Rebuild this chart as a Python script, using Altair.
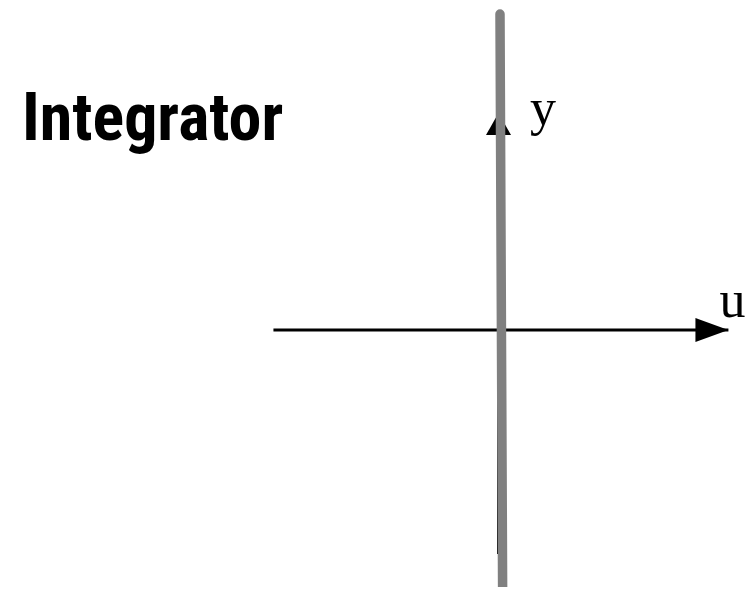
import altair as alt
import pandas as pd

title_text = ["Integrator"]

# Axis arrows in (u, y) data units, origin at the crossing point
axis_name = ["u", "y"]
axis_u0 = [-1.023, 0.0]
axis_v0 = [0.0, -1.018]
axis_u1 = [1.045, 0.0]
axis_v1 = [0.0, 0.986]
head_shape = ["M-2,-0.727L0,0L-2,0.727Z", "M-1.136,2L0,0L1.136,2Z"]
head_size = [1089, 484]

# Integrator equilibrium set (nearly vertical line u = 0)
line_u = [0.0068, 0.019]
line_v = [1.436, -1.25]

# Axis labels
label_text = ["u", "y"]
label_u = [1.005, 0.143]
label_v = [0.059, 0.932]

axes = pd.DataFrame({"name": axis_name, "u0": axis_u0, "v0": axis_v0,
                     "u1": axis_u1, "v1": axis_v1,
                     "shape": head_shape, "size": head_size})
eq = pd.DataFrame({"u0": [line_u[0]], "v0": [line_v[0]],
                   "u1": [line_u[1]], "v1": [line_v[1]]})
labels = pd.DataFrame({"text": label_text, "u": label_u, "v": label_v})
titles = pd.DataFrame({"t": title_text})

xs = alt.Scale(domain=[-2.2295, 1.1295], nice=False, zero=False)
ys = alt.Scale(domain=[-1.1682, 1.4636], nice=False, zero=False)

axis_lines = alt.Chart(axes).mark_rule(color="black", strokeWidth=3).encode(
    x=alt.X("u0:Q", scale=xs, axis=None),
    y=alt.Y("v0:Q", scale=ys, axis=None),
    x2="u1:Q", y2="v1:Q",
)

heads = alt.Chart(axes).mark_point(filled=True, color="black", opacity=1, strokeWidth=0).encode(
    x=alt.X("u1:Q", scale=xs, axis=None),
    y=alt.Y("v1:Q", scale=ys, axis=None),
    shape=alt.Shape("shape:N", scale=None),
    size=alt.Size("size:Q", scale=None),
)

eq_line = alt.Chart(eq).mark_rule(color="#808080", strokeWidth=9.5, strokeCap="round", clip=False).encode(
    x=alt.X("u0:Q", scale=xs, axis=None),
    y=alt.Y("v0:Q", scale=ys, axis=None),
    x2="u1:Q", y2="v1:Q",
)

text = alt.Chart(labels).mark_text(font="Liberation Serif", fontSize=52, align="left",
                                   baseline="alphabetic", color="black").encode(
    x=alt.X("u:Q", scale=xs, axis=None),
    y=alt.Y("v:Q", scale=ys, axis=None),
    text="text:N",
)

title = alt.Chart(titles).mark_text(
    font="Liberation Sans Narrow, Roboto Condensed, DejaVu Sans Condensed, Roboto",
    fontWeight="bold", fontSize=66, align="left", baseline="alphabetic", color="black"
).encode(x=alt.value(14), y=alt.value(132), text="t:N")

chart = alt.layer(axis_lines, heads, eq_line, text, title).properties(
    width=739, height=579,
    padding=0,
    autosize=alt.AutoSizeParams(type="none"),
).configure_view(stroke=None)

chart.save("out.html", embed_options={"renderer": "svg", "actions": False})
